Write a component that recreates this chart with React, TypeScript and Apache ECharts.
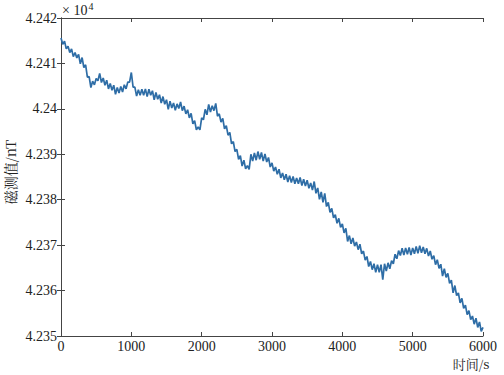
import React, { useEffect, useRef } from "react";
import * as echarts from "echarts";

// sample spacing of the recorded series (s)
const SAMPLE_STEP = 25;

// magnetic readings (nT), one every 25 s from 0 to 6000 s
const magValues: number[] = [
  42415.6, 42414.2, 42414.9, 42413.2, 42413.8, 42412.4, 42413.2, 42411.5, 42412.4, 42411.2,
  42412.0, 42409.9, 42411.3, 42409.1, 42409.7, 42407.0, 42407.1, 42404.7, 42406.1, 42405.3,
  42406.7, 42406.2, 42407.8, 42405.8, 42406.8, 42405.2, 42406.3, 42404.4, 42405.6, 42404.1,
  42405.2, 42403.2, 42404.7, 42403.5, 42404.9, 42403.7, 42405.3, 42404.4, 42405.9, 42405.9,
  42408.0, 42404.8, 42404.8, 42402.8, 42404.2, 42403.0, 42404.3, 42403.0, 42404.4, 42402.7,
  42404.3, 42403.0, 42404.0, 42402.0, 42403.6, 42402.1, 42403.1, 42401.3, 42402.7, 42401.0,
  42402.0, 42399.9, 42401.7, 42400.2, 42401.3, 42399.7, 42401.1, 42400.1, 42401.5, 42399.6,
  42400.6, 42398.9, 42399.8, 42398.0, 42399.0, 42396.7, 42397.4, 42395.4, 42396.0, 42395.4,
  42398.0, 42397.6, 42399.9, 42398.7, 42401.0, 42399.3, 42400.7, 42399.6, 42401.2, 42398.4,
  42398.9, 42397.1, 42397.9, 42395.6, 42396.3, 42394.2, 42394.8, 42392.3, 42392.8, 42390.6,
  42391.1, 42388.9, 42389.7, 42387.4, 42388.7, 42386.8, 42387.5, 42386.7, 42390.0, 42388.5,
  42390.3, 42388.7, 42390.6, 42388.9, 42390.4, 42388.5, 42390.1, 42388.3, 42389.3, 42387.2,
  42388.1, 42386.3, 42387.2, 42385.6, 42386.7, 42384.8, 42385.9, 42384.4, 42385.6, 42383.9,
  42385.3, 42383.8, 42385.1, 42383.5, 42384.8, 42383.5, 42384.9, 42383.1, 42384.5, 42383.0,
  42384.3, 42382.5, 42383.7, 42382.1, 42384.0, 42381.4, 42382.6, 42380.1, 42381.7, 42379.4,
  42381.4, 42378.5, 42379.4, 42377.2, 42378.1, 42376.0, 42376.7, 42374.8, 42375.9, 42373.9,
  42374.7, 42372.7, 42373.7, 42370.8, 42372.1, 42370.3, 42371.6, 42369.8, 42370.7, 42369.0,
  42370.2, 42368.1, 42368.7, 42366.7, 42367.5, 42365.3, 42366.4, 42364.6, 42365.9, 42364.0,
  42365.7, 42364.0, 42365.7, 42362.4, 42365.9, 42364.3, 42366.1, 42364.8, 42366.6, 42365.9,
  42368.0, 42367.0, 42368.8, 42367.7, 42369.3, 42367.8, 42369.4, 42368.0, 42369.5, 42367.8,
  42369.4, 42368.1, 42369.7, 42368.2, 42369.9, 42368.3, 42369.6, 42368.1, 42369.3, 42367.6,
  42368.7, 42366.9, 42367.7, 42365.7, 42366.8, 42364.9, 42365.8, 42363.2, 42364.8, 42362.9,
  42363.8, 42361.6, 42362.3, 42359.5, 42361.1, 42358.9, 42359.5, 42357.3, 42358.3, 42356.1,
  42356.8, 42354.7, 42355.6, 42353.6, 42354.4, 42352.6, 42353.9, 42351.9, 42353.1, 42351.0,
  42351.9,
];

const xTicks = [0, 1000, 2000, 3000, 4000, 5000, 6000];
const yTicks = [42350, 42360, 42370, 42380, 42390, 42400, 42410, 42420];

const xLabel = "时间/s";
const yLabel = "磁测值/nT";
const scaleLabel = "× 10";
const scaleExp = "4";

export default function App() {
  const ref = useRef<HTMLDivElement>(null);

  useEffect(() => {
    if (!ref.current) return;
    const chart = echarts.init(ref.current, null, { renderer: "svg" });
    const data = magValues.map((v, i) => [i * SAMPLE_STEP, v]);
    const axisColor = "#444";
    const font = "'Liberation Serif', 'Times New Roman', serif";
    const cjkFont = "'Noto Serif CJK SC', 'Noto Sans CJK SC', serif";
    const xMin = xTicks[0];
    const xMax = xTicks[xTicks.length - 1];
    const yMin = yTicks[0];
    const yMax = yTicks[yTicks.length - 1];
    const common = {
      axisLine: { show: true, lineStyle: { color: axisColor, width: 1 } },
      axisTick: { show: true, inside: true, length: 4, lineStyle: { color: axisColor } },
      splitLine: { show: false },
    };
    chart.setOption({
      animation: false,
      backgroundColor: "#fff",
      grid: { left: 61, right: 21, top: 18, bottom: 39, containLabel: false },
      xAxis: [
        {
          type: "value",
          min: xMin,
          max: xMax,
          interval: 1000,
          position: "bottom",
          ...common,
          axisLabel: {
            color: "#222",
            fontSize: 14,
            fontFamily: font,
            margin: 3,
            formatter: (v: number) => String(v),
          },
        },
        {
          type: "value",
          min: xMin,
          max: xMax,
          interval: 1000,
          position: "top",
          ...common,
          axisLabel: { show: false },
        },
      ],
      yAxis: [
        {
          type: "value",
          min: yMin,
          max: yMax,
          interval: 10,
          position: "left",
          ...common,
          axisLabel: {
            color: "#222",
            fontSize: 14,
            fontFamily: font,
            margin: 4,
            formatter: (v: number) => String(+(v / 10000).toFixed(3)),
          },
        },
        {
          type: "value",
          min: yMin,
          max: yMax,
          interval: 10,
          position: "right",
          ...common,
          axisLabel: { show: false },
        },
      ],
      series: [
        {
          type: "line",
          data,
          showSymbol: false,
          symbol: "none",
          lineStyle: { color: "#2e6da6", width: 1.7 },
          xAxisIndex: 0,
          yAxisIndex: 0,
        },
      ],
      graphic: [
        {
          type: "text",
          left: 62,
          top: 1,
          style: {
            text: `{a|${scaleLabel}}{b|${scaleExp}}`,
            rich: {
              a: { fontSize: 14, fontFamily: font, fill: "#222", verticalAlign: "bottom" },
              b: { fontSize: 10, fontFamily: font, fill: "#222", verticalAlign: "top", padding: [0, 0, 6, 1] },
            },
          },
        },
        {
          type: "text",
          x: 10,
          y: 172,
          rotation: Math.PI / 2,
          style: {
            text: yLabel,
            fontSize: 14,
            fontFamily: cjkFont,
            fill: "#222",
            align: "center",
            verticalAlign: "middle",
          },
        },
        {
          type: "text",
          x: 471,
          y: 363,
          style: {
            text: xLabel,
            fontSize: 13,
            fontFamily: cjkFont,
            fill: "#222",
            align: "center",
            verticalAlign: "middle",
          },
        },
      ],
    });
    return () => chart.dispose();
  }, []);

  return (
    <div
      ref={ref}
      style={{ position: "fixed", left: 0, top: 0, width: 504, height: 375 }}
    />
  );
}
